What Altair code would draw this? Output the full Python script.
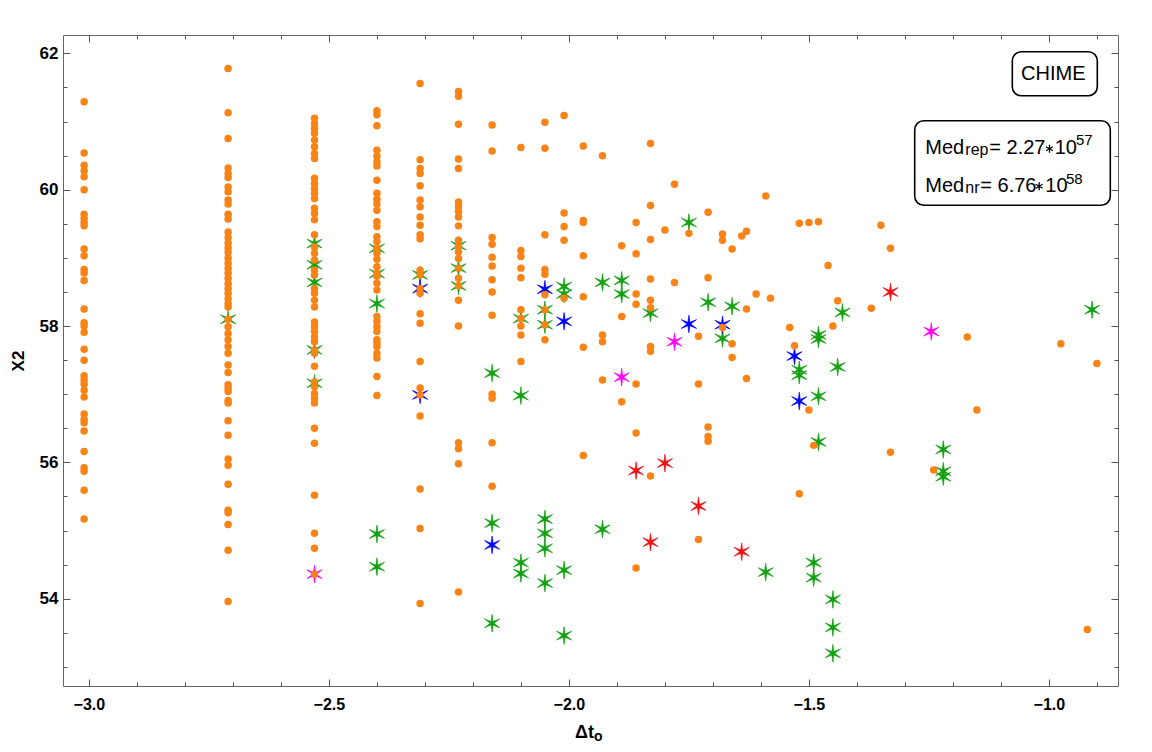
import altair as alt
import pandas as pd

# ---------------- data ----------------
# orange points, grouped in vertical columns (x value of the column, then the y values)
oc_x = [-3.01, -2.71, -2.53, -2.40, -2.31, -2.23, -2.16, -2.10, -2.05, -2.01, -1.97, -1.93, -1.89, -1.86, -1.83]
oc_3_01 = [61.29, 60.54, 60.36, 60.28, 60.19, 60.00, 59.64, 59.58, 59.52, 59.47, 59.13, 59.03, 58.83, 58.78,
           58.67, 58.25, 58.05, 58.00, 57.91, 57.66, 57.50, 57.27, 57.21, 57.15, 57.06, 56.96, 56.71, 56.63,
           56.58, 56.46, 56.16, 55.92, 55.87, 55.59, 55.17]
oc_2_71 = [61.78, 61.13, 60.75, 60.32, 60.24, 60.18, 60.04, 59.97, 59.85, 59.79, 59.64, 59.57, 59.38, 59.30,
           59.22, 59.15, 59.08, 59.00, 58.92, 58.85, 58.78, 58.70, 58.62, 58.55, 58.48, 58.40, 58.33, 58.28,
           58.10, 57.99, 57.89, 57.80, 57.70, 57.60, 57.43, 57.32, 57.14, 57.09, 57.04, 56.91, 56.87, 56.61,
           56.40, 56.05, 55.96, 55.68, 55.30, 55.26, 55.09, 54.71, 53.96]
oc_2_53 = [61.05, 60.97, 60.90, 60.83, 60.73, 60.63, 60.53, 60.46, 60.17, 60.09, 60.02, 59.95, 59.87, 59.73,
           59.65, 59.56, 59.34, 59.16, 59.07, 58.97, 58.82, 58.75, 58.55, 58.48, 58.38, 58.28, 58.06, 57.99,
           57.92, 57.84, 57.77, 57.65, 57.60, 57.41, 57.18, 57.11, 57.01, 56.94, 56.87, 56.50, 56.28, 55.52,
           54.96, 54.74, 54.36]
oc_2_40 = [61.16, 61.10, 60.94, 60.58, 60.49, 60.41, 60.35, 60.14, 59.95, 59.86, 59.79, 59.70, 59.53, 59.46,
           59.31, 59.24, 59.14, 59.07, 58.98, 58.87, 58.77, 58.73, 58.63, 58.53, 58.14, 58.07, 57.99, 57.92,
           57.80, 57.75, 57.70, 57.60, 57.53, 57.26, 56.98]
oc_2_31 = [61.56, 60.44, 60.31, 60.24, 60.06, 59.85, 59.75, 59.60, 59.48, 59.34, 59.28, 58.82, 58.75, 58.55,
           58.48, 58.18, 58.04, 57.48, 57.09, 56.99, 56.68, 55.61, 55.03, 53.93]
oc_2_23 = [61.44, 61.37, 60.96, 60.45, 60.31, 59.82, 59.75, 59.68, 59.60, 59.47, 59.26, 59.18, 59.09, 58.99,
           58.85, 58.70, 58.59, 58.38, 58.00, 56.29, 56.20, 55.98, 54.10]
oc_2_16 = [60.95, 60.57, 59.30, 59.20, 59.01, 58.88, 58.68, 58.50, 58.16, 57.00, 56.94, 56.29, 55.65]
oc_2_10 = [60.62, 59.11, 59.02, 58.85, 58.71, 58.24, 58.11, 58.00, 57.87, 57.48]
oc_2_05 = [60.99, 60.61, 59.34, 58.83, 58.76, 58.46, 58.24, 58.02, 57.80]
oc_2_01 = [61.09, 59.66, 59.46, 59.26, 58.41]
oc_1_97 = [60.64, 59.55, 59.52, 59.03, 58.43, 57.69, 56.10]
oc_1_93 = [60.50, 57.87, 57.77, 57.21]
oc_1_89 = [59.18, 58.14, 56.89]
oc_1_86 = [59.52, 59.06, 58.47, 58.32, 57.15, 56.43, 54.45]
oc_1_83 = [60.68, 59.77, 59.27, 58.69, 58.38, 58.27, 57.70, 57.63, 55.80]
oc_cols = [oc_3_01, oc_2_71, oc_2_53, oc_2_40, oc_2_31, oc_2_23, oc_2_16, oc_2_10, oc_2_05,
           oc_2_01, oc_1_97, oc_1_93, oc_1_89, oc_1_86, oc_1_83]

# remaining (scattered) orange points
os_x = [-1.80, -1.78, -1.75, -1.78, -1.71, -1.71, -1.68, -1.68, -1.66, -1.64, -1.63, -1.59, -1.73, -1.68,
        -1.66, -1.66, -1.63, -1.63, -1.61, -1.58, -1.73, -1.54, -1.53, -1.52, -1.50, -1.48, -1.46, -1.45,
        -1.44, -1.37, -1.35, -1.33, -1.50, -1.71, -1.71, -1.71, -1.49, -1.33, -1.24, -1.73, -1.52, -1.17,
        -0.975, -0.90, -1.15, -0.92]
os_y = [59.41, 60.08, 59.36, 58.64, 59.67, 58.71, 59.35, 59.26, 59.13, 59.32, 59.39, 59.91, 57.85, 57.98,
        57.74, 57.54, 58.25, 57.23, 58.47, 58.41, 57.15, 57.98, 57.71, 59.51, 59.52, 59.53, 58.89, 58.00,
        58.37, 58.26, 59.48, 59.14, 56.77, 56.52, 56.38, 56.31, 56.25, 56.15, 55.89, 54.87, 55.54, 57.84,
        57.74, 57.45, 56.77, 53.55]

green_x = [-2.71, -2.53, -2.53, -2.53, -2.53, -2.53, -2.40, -2.40, -2.40, -2.40, -2.40, -2.31, -2.23, -2.23,
           -2.23, -2.16, -2.16, -2.16, -2.10, -2.10, -2.10, -2.10, -2.05, -2.05, -2.05, -2.05, -2.05, -2.05,
           -2.01, -2.01, -2.01, -2.01, -1.93, -1.93, -1.89, -1.89, -1.83, -1.75, -1.71, -1.68, -1.66, -1.59,
           -1.52, -1.52, -1.48, -1.48, -1.48, -1.48, -1.49, -1.49, -1.45, -1.45, -1.45, -1.43, -1.44, -1.22,
           -1.22, -1.22, -0.91]
green_y = [58.10, 59.21, 58.90, 58.64, 57.65, 57.16, 59.14, 58.77, 58.33, 54.95, 54.47, 58.75, 59.18, 58.85,
           58.59, 57.31, 55.11, 53.64, 58.11, 56.98, 54.53, 54.37, 58.24, 58.02, 55.17, 54.96, 54.74, 54.23,
           58.58, 58.47, 54.42, 53.46, 58.64, 55.02, 58.67, 58.47, 58.19, 59.52, 58.35, 57.82, 58.29, 54.39,
           57.36, 57.28, 57.87, 57.81, 56.97, 56.30, 54.53, 54.31, 53.99, 53.58, 53.20, 58.20, 57.40, 56.19,
           55.87, 55.79, 58.24]

blue_x = [-2.31, -2.31, -2.16, -2.05, -2.01, -1.75, -1.68, -1.53, -1.52]
blue_y = [58.55, 56.99, 54.79, 58.54, 58.07, 58.03, 58.02, 57.56, 56.90]

red_x = [-1.86, -1.80, -1.83, -1.73, -1.64, -1.33]
red_y = [55.88, 55.99, 54.83, 55.36, 54.69, 58.50]

magenta_x = [-2.53, -1.89, -1.78, -1.245]
magenta_y = [54.36, 57.25, 57.77, 57.92]

x_major = [-3.0, -2.5, -2.0, -1.5, -1.0]
x_minor = [round(-3.0 + 0.1 * i, 1) for i in range(22)]
y_major = [54, 56, 58, 60, 62]
y_minor = [53.0 + 0.5 * i for i in range(19)]

# ---------------- build tables ----------------
ox, oy = [], []
for cx, ys in zip(oc_x, oc_cols):
    ox += [cx] * len(ys)
    oy += ys
ox += os_x
oy += os_y
orange_df = pd.DataFrame({"x": ox, "y": oy})
green_df = pd.DataFrame({"x": green_x, "y": green_y})
blue_df = pd.DataFrame({"x": blue_x, "y": blue_y})
red_df = pd.DataFrame({"x": red_x, "y": red_y})
magenta_df = pd.DataFrame({"x": magenta_x, "y": magenta_y})

# ---------------- styling ----------------
FONT = "Liberation Sans"
TICK = "#555555"
XS = alt.Scale(domain=[-3.054, -0.856], nice=False, zero=False)
YS = alt.Scale(domain=[52.72, 62.27], nice=False, zero=False)
STAR = ("M0,-1L0.11,-0.19L0.866,-0.5L0.22,0L0.866,0.5L0.11,0.19L0,1L-0.11,0.19"
        "L-0.866,0.5L-0.22,0L-0.866,-0.5L-0.11,-0.19Z")
ASTER = "M0,-1L0,1M-0.866,-0.5L0.866,0.5M-0.866,0.5L0.866,-0.5"

base_ax = dict(domain=False, grid=False, tickColor=TICK, tickWidth=1)


def plain_axis(orient, values, size):
    return alt.Axis(orient=orient, values=values, tickSize=size, offset=-size,
                    labels=False, title="", **base_ax)


def star_layer(df, color, xax, yax):
    xenc = alt.X("x:Q", scale=XS, axis=xax)
    yenc = alt.Y("y:Q", scale=YS, axis=yax)
    return alt.Chart(df).mark_point(shape=STAR, filled=True, size=310, color=color,
                                    opacity=1, stroke=color, strokeWidth=0.7).encode(x=xenc, y=yenc)


green = star_layer(green_df, "#12a012", plain_axis("bottom", x_minor, 4), plain_axis("left", y_minor, 4))
blue = star_layer(blue_df, "#0000ff", plain_axis("top", x_major, 7), plain_axis("right", y_major, 7))
red = star_layer(red_df, "#ee1111", plain_axis("top", x_minor, 4), plain_axis("right", y_minor, 4))
magenta = star_layer(magenta_df, "#ff00ff", None, None)

orange = alt.Chart(orange_df).mark_circle(size=56, color="#f98314", opacity=1).encode(
    x=alt.X("x:Q", scale=XS, axis=alt.Axis(
        orient="bottom", values=x_major, format=".1f", tickSize=7, offset=-7,
        labelPadding=10, labelFlush=False, labelOverlap=False, labelFont=FONT,
        labelFontSize=16, labelFontWeight="bold", labelColor="black", title="", **base_ax)),
    y=alt.Y("y:Q", scale=YS, axis=alt.Axis(
        orient="left", values=y_major, format="d", tickSize=7, offset=-7,
        labelPadding=5, labelFlush=False, labelOverlap=False, labelFont=FONT,
        labelFontSize=17, labelFontWeight="bold", labelColor="black",
        title="X2", titleFont=FONT, titleFontSize=17, titleFontWeight="bold",
        titleColor="black", titlePadding=12, **base_ax)),
)

one = alt.Data(values=[{}])


def txt(s, x, y, size, align="left", weight="normal", baseline="alphabetic"):
    return alt.Chart(one).mark_text(text=s, align=align, baseline=baseline, font=FONT,
                                    fontSize=size, fontWeight=weight, color="black").encode(
        x=alt.value(x), y=alt.value(y))


def box(x1, x2, y1, y2):
    return alt.Chart(one).mark_rect(cornerRadius=9, fill="white", stroke="black",
                                    strokeWidth=1.6).encode(
        x=alt.value(x1), x2=alt.value(x2), y=alt.value(y1), y2=alt.value(y2))


def aster(x, y):
    return alt.Chart(one).mark_point(shape=ASTER, size=64, filled=False, color="black",
                                     strokeWidth=1.3, opacity=1).encode(x=alt.value(x), y=alt.value(y))


annotations = [
    box(949.3, 1034.3, 16.7, 60.7),
    txt("CHIME", 990.3, 45, 20, align="center"),
    box(851.7, 1047.3, 85.7, 170.3),
    txt("Med", 862.3, 118.7, 20), txt("rep", 902.3, 119.7, 16),
    txt("= 2.27", 926.3, 118.7, 20), aster(986.5, 113.7),
    txt("10", 991.7, 118.7, 20), txt("57", 1013, 109.7, 15),
    txt("Med", 862.3, 157, 20), txt("nr", 902.3, 158, 16),
    txt("= 6.76", 917.3, 157, 20), aster(976.2, 151.3),
    txt("10", 982.3, 157, 20), txt("58", 1003, 149, 15),
    # x axis title  Δt with subscript o
    txt("Δt", 512, 703, 18, weight="bold"), txt("o", 531, 705.5, 14, weight="bold"),
]

chart = alt.layer(green, blue, red, magenta, orange, *annotations).resolve_axis(
    x="independent", y="independent"
).properties(
    width=1055, height=651,
    autosize=alt.AutoSizeParams(type="none"),
    padding={"left": 55, "top": 27, "right": 20, "bottom": 58},
).configure_view(stroke="#666666", strokeWidth=1)

chart.save("out.html", embed_options={"renderer": "svg", "actions": False})
